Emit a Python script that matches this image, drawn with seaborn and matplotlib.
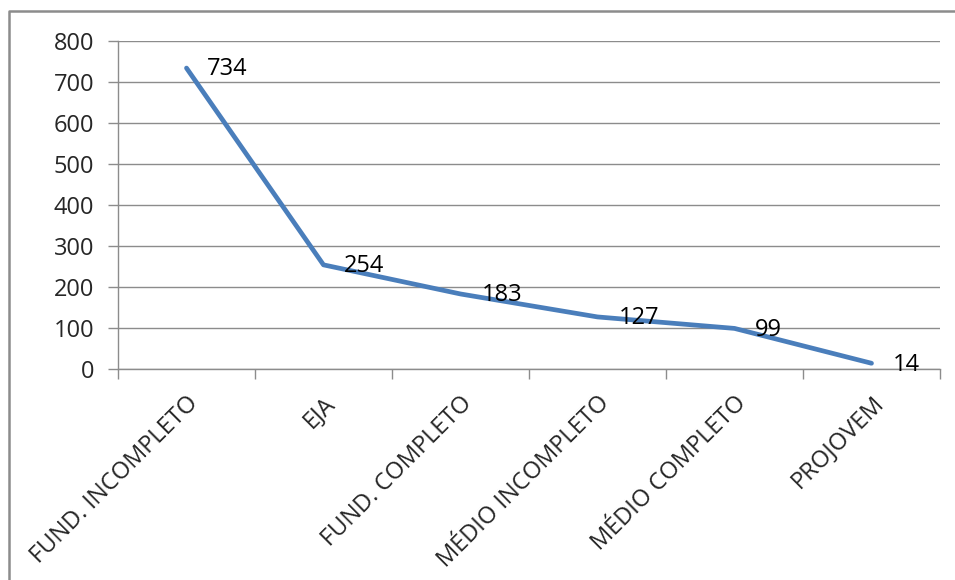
import seaborn as sns
import matplotlib.pyplot as plt
from matplotlib.lines import Line2D
import pandas as pd

# data
categories = ['FUND. INCOMPLETO', 'EJA', 'FUND. COMPLETO',
              'MÉDIO INCOMPLETO', 'MÉDIO COMPLETO', 'PROJOVEM']
values = [734, 254, 183, 127, 99, 14]
y_ticks = [0, 100, 200, 300, 400, 500, 600, 700, 800]

df = pd.DataFrame({'pos': range(len(categories)), 'value': values})

sns.set_style('white')
plt.rcParams['font.family'] = ['Open Sans', 'DejaVu Sans']

fig = plt.figure(figsize=(9.55, 5.8), dpi=100)
ax = fig.add_axes([118 / 955, 1 - 369 / 580, 822 / 955, 328 / 580])

sns.lineplot(data=df, x='pos', y='value', ax=ax, color='#4A7EBB', linewidth=3.4)

# data labels to the right of each point
for i, v in enumerate(values):
    ax.annotate(str(v), (i, v), xytext=(15, -1), textcoords='offset points',
                ha='left', va='center', fontsize=17, color='black')

ax.set_xlim(-0.5, len(categories) - 0.5)
ax.set_ylim(0, 800)
ax.set_yticks(y_ticks)
ax.yaxis.grid(True, color='#8c8c8c', linewidth=1)
ax.set_axisbelow(True)

ax.set_xticks(range(len(categories)))
ax.set_xticklabels(categories, rotation=45, ha='right', rotation_mode='anchor',
                   fontsize=17)
ax.set_xticks([i - 0.5 for i in range(len(categories) + 1)], minor=True)
ax.tick_params(axis='x', which='major', length=0, pad=16)
ax.tick_params(axis='x', which='minor', length=7, color='#8c8c8c', width=1,
               direction='out', bottom=True)
ax.tick_params(axis='y', length=7, color='#8c8c8c', width=1, direction='out',
               left=True, labelsize=17, pad=10)

for s in ['top', 'right']:
    ax.spines[s].set_visible(False)
for s in ['left', 'bottom']:
    ax.spines[s].set_color('#8c8c8c')
    ax.spines[s].set_linewidth(1)

ax.set_xlabel('')
ax.set_ylabel('')

# outer chart border (only top and left edges are inside the picture)
fig.add_artist(Line2D([8.5 / 955, 8.5 / 955, 1], [0, 1 - 11 / 580, 1 - 11 / 580],
                      transform=fig.transFigure, color='#8c8c8c', linewidth=1.8))

fig.savefig('out.png', dpi=100)
